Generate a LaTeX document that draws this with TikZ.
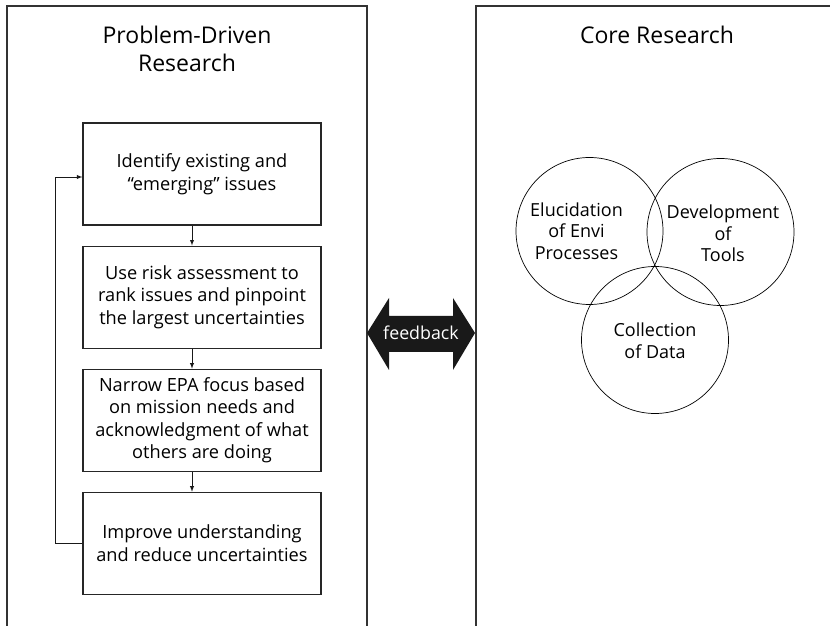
\documentclass[tikz,border=0pt]{standalone}
\usepackage{fontspec}
\setmainfont{Open Sans}
\usetikzlibrary{positioning}

\begin{document}
\begin{tikzpicture}[
    x = 1pt, y = 1pt,
    rectNode/.append style = {draw = black!85, line width = 1.1pt, rectangle, minimum height = 102pt, minimum width = 238pt, align = center, font = \fontsize{18.2}{22.5}\selectfont},
    myArrow/.append style = {->, >=latex, line width = 0.9pt, draw = black!90},
    panelLine/.append style = {draw = black!80, line width = 1.4pt},
    vennNode/.append style = {draw, circle, minimum size = 147pt, line width = 0.7pt},
    vennText/.append style = {align = center, font = \fontsize{18}{21.5}\selectfont},
    titleText/.append style = {align = center, font = \fontsize{23}{28}\selectfont},
    node distance = 20pt
    ]
      \useasboundingbox (0,0) rectangle (830,626);

      %% Panels
      \draw[panelLine] (7,0) -- (7,620) -- (367,620) -- (367,0);
      \draw[panelLine] (476,0) -- (476,620) -- (830,620);
      \node[titleText] (problemTitle) at (187,577) {Problem-Driven\\Research};
      \node[titleText] (coreTitle) at (657,591) {Core Research};

      %% Problem-driven loop
      \node[rectNode] (identify) at (202,452) {Identify existing and\\``emerging'' issues};
      \node[rectNode, below = of identify] (rankRisk) {Use risk assessment to\\rank issues and pinpoint\\the largest uncertainties};
      \node[rectNode, below = of rankRisk] (narrow) {Narrow EPA focus based\\on mission needs and\\acknowledgment of what\\others are doing};
      \node[rectNode, below = of narrow] (improve) {Improve understanding\\and reduce uncertainties};

      %% Core research circles
      \node[vennNode] (elucid) at (589.5,395) {};
      \node[vennNode] (develop) at (720.5,394) {};
      \node[vennNode] (collect) at (655,286) {};
      \node[vennText] (elucidText) at ([xshift=-13pt]elucid.center) {Elucidation\\of Envi\\Processes};
      \node[vennText] (developText) at ([xshift=2.5pt, yshift=-1.5pt]develop.center) {Development\\of\\Tools};
      \node[vennText] (collectText) at ([yshift=-1pt]collect.center) {Collection\\of Data};

      %% Feedback
      \fill[black!90] (367,293) -- (389,328) -- (389,310) -- (453,310) -- (453,328) -- (475,293)
            -- (453,256) -- (453,274) -- (389,274) -- (389,256) -- cycle;
      \node[text = white, font = \fontsize{17.8}{20}\selectfont] (feedback) at (421,293) {feedback};

      %% Arrows
      \draw[myArrow] ([xshift=-10pt]identify.south) -- ([xshift=-10pt]rankRisk.north);
      \draw[myArrow] ([xshift=-10pt]rankRisk.south) -- ([xshift=-10pt]narrow.north);
      \draw[myArrow] ([xshift=-10pt]narrow.south) -- ([xshift=-10pt]improve.north);
      \draw[myArrow] (improve.west) -- ++(-27pt,0) |- ([yshift=-3pt]identify.west);
    \end{tikzpicture}
\end{document}
